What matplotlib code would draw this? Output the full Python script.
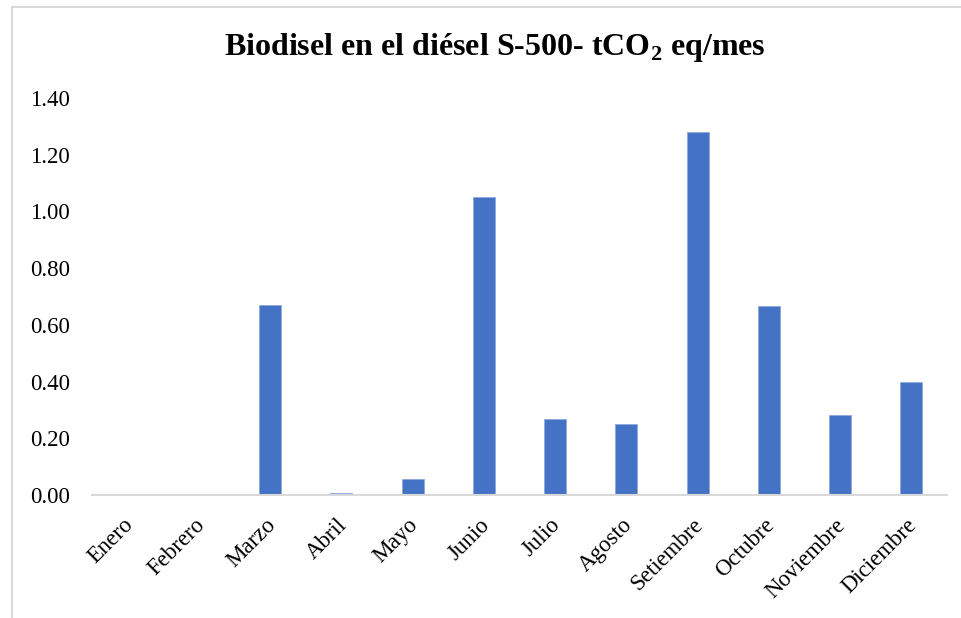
import matplotlib.pyplot as plt
from matplotlib.patches import Rectangle
from matplotlib.transforms import ScaledTranslation

meses = ["Enero", "Febrero", "Marzo", "Abril", "Mayo", "Junio", "Julio",
         "Agosto", "Setiembre", "Octubre", "Noviembre", "Diciembre"]
emisiones = [0.0, 0.0, 0.67, 0.007, 0.056, 1.05, 0.268,
             0.252, 1.28, 0.666, 0.281, 0.398]
y_ticks = [0.0, 0.2, 0.4, 0.6, 0.8, 1.0, 1.2, 1.4]

plt.rcParams["font.family"] = ["Liberation Serif", "DejaVu Serif"]
plt.rcParams["mathtext.fontset"] = "custom"
plt.rcParams["mathtext.rm"] = "Liberation Serif"
plt.rcParams["mathtext.bf"] = "Liberation Serif:bold"

fig = plt.figure(figsize=(9.62, 6.18), dpi=100)
ax = fig.add_axes([92 / 962, 1 - 495 / 618, 855 / 962, 397 / 618])

# chart-area frame (cut off at right and bottom)
fig.patches.append(Rectangle((12 / 962, -0.05), 1.1, 1 - 7 / 618 + 0.05,
                             transform=fig.transFigure, fill=False,
                             edgecolor="#d9d9d9", linewidth=1.5))

x = range(len(meses))
ax.bar(x, emisiones, width=0.31, color="#4472C4",
       edgecolor="#8faadc", linewidth=0.6, zorder=2)

ax.set_xlim(-0.5, len(meses) - 0.5)
ax.set_ylim(0, 1.4)
ax.set_yticks(y_ticks)
ax.set_yticklabels([f"{v:.2f}" for v in y_ticks], fontsize=16.5)
ax.set_xticks(list(x))
ax.set_xticklabels(meses, fontsize=16.5, rotation=45, ha="right",
                   rotation_mode="anchor")
ax.tick_params(axis="both", length=0)
ax.tick_params(axis="y", pad=16)
ax.tick_params(axis="x", pad=14)

# nudge the slanted month names so their ends sit over the ticks
shift = ScaledTranslation(-5 / 100, 0, fig.dpi_scale_trans)
for lbl in ax.get_xticklabels():
    lbl.set_transform(lbl.get_transform() + shift)

for side in ("top", "right", "left"):
    ax.spines[side].set_visible(False)
ax.spines["bottom"].set_color("#d9d9d9")
ax.spines["bottom"].set_linewidth(1.5)

fig.text(495 / 962, 1 - 48 / 618,
         r"Biodisel en el diésel S-500- tCO$_\mathbf{2}$ eq/mes",
         ha="center", va="center", fontsize=23, fontweight="bold")

fig.savefig("out.png", dpi=100)
